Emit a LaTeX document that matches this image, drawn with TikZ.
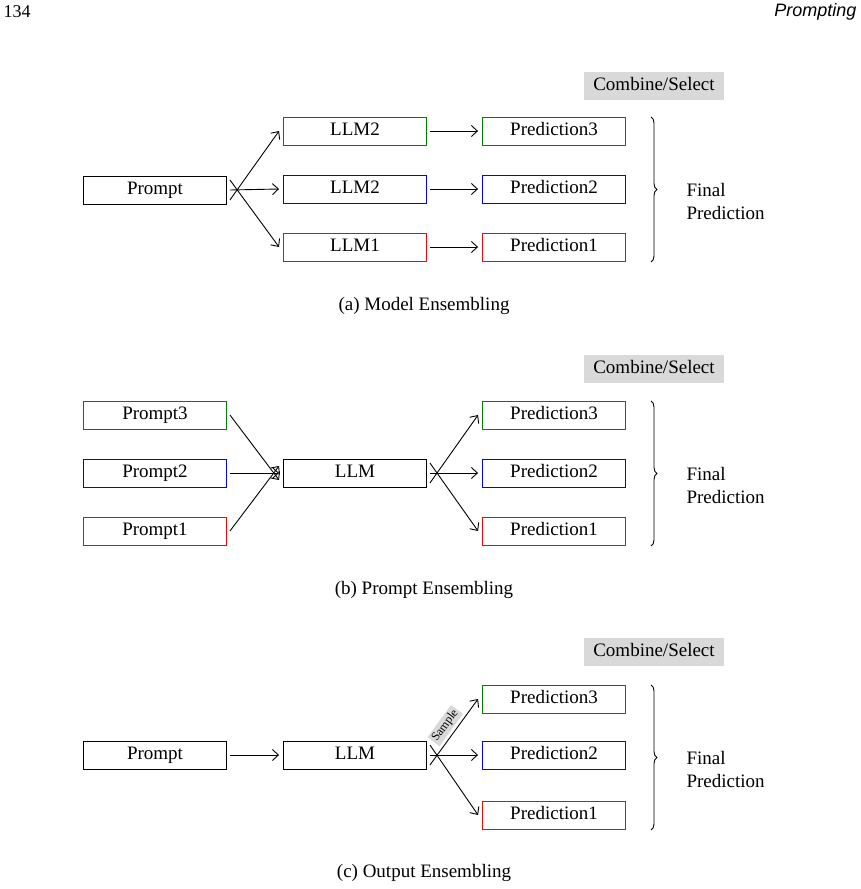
\documentclass[tikz,border=0pt]{standalone}
\usepackage{fontspec}
\setmainfont{Liberation Serif}
\newfontfamily\hdsans{Liberation Sans}
\usetikzlibrary{decorations.pathreplacing,arrows.meta}
\definecolor{cgr}{RGB}{0,128,0}
\definecolor{cbl}{RGB}{0,0,255}
\definecolor{crd}{RGB}{255,0,0}
\begin{document}
\begin{tikzpicture}[x=1pt,y=-1pt,
  bx/.style={draw=#1,line width=0.9pt,minimum width=143,minimum height=28,inner sep=0pt,text height=13pt,text depth=3.5pt,font=\fontsize{19}{22}\selectfont},
  bx/.default=black,
  cs/.style={fill=black!15,minimum width=140,minimum height=28,inner sep=0pt,text height=13pt,text depth=3.5pt,font=\fontsize{19}{22}\selectfont},
  ar/.style={->,line width=0.9pt,>={Straight Barb[length=6pt,width=11pt]}},
  captxt/.style={font=\fontsize{19}{23}\selectfont}]
\useasboundingbox (0,0) rectangle (860,889);
\node[anchor=west,font=\fontsize{18}{20}\selectfont] (pg) at (0,12) {134};
\node[anchor=east,font=\hdsans\itshape\fontsize{18}{20}\selectfont] (ti) at (860,12) {Prompting};
% (a)
\node[cs] (csa) at (654,86) {Combine/Select};
\node[bx] (pa) at (155,190) {Prompt};
\node[bx=cgr] (la3) at (355,131) {LLM2};
\node[bx=cbl] (la2) at (355,189) {LLM2};
\node[bx=crd] (la1) at (355,247) {LLM1};
\node[bx=cgr] (qa3) at (554,131) {Prediction3};
\node[bx=cbl] (qa2) at (554,189) {Prediction2};
\node[bx=crd] (qa1) at (554,247) {Prediction1};
\draw[ar] ([xshift=3,yshift=-10]pa.east) -- ([xshift=-4]la3.west);
\draw[ar] ([xshift=3]pa.east) -- ([xshift=-4]la2.west);
\draw[ar] ([xshift=3,yshift=10]pa.east) -- ([xshift=-4]la1.west);
\foreach \i in {1,2,3} \draw[ar] ([xshift=3]la\i.east) -- ([xshift=-4]qa\i.west);
\draw[line width=0.9pt,decorate,decoration={brace,amplitude=6pt}] (651,117) -- (651,262);
\node[anchor=west,align=left,captxt] (fa) at (683,201) {Final\\Prediction};
\node[captxt] (ca) at (424,306) {(a) Model Ensembling};
% (b)
\node[cs] (csb) at (654,369) {Combine/Select};
\node[bx=cgr] (pb3) at (155,415) {Prompt3};
\node[bx=cbl] (pb2) at (155,473) {Prompt2};
\node[bx=crd] (pb1) at (155,531) {Prompt1};
\node[bx] (lb) at (355,473) {LLM};
\node[bx=cgr] (qb3) at (554,415) {Prediction3};
\node[bx=cbl] (qb2) at (554,473) {Prediction2};
\node[bx=crd] (qb1) at (554,531) {Prediction1};
\draw[ar] ([xshift=3]pb3.east) -- ([xshift=-4,yshift=-7]lb.west);
\draw[ar] ([xshift=3]pb2.east) -- ([xshift=-4]lb.west);
\draw[ar] ([xshift=3]pb1.east) -- ([xshift=-4,yshift=7]lb.west);
\draw[ar] ([xshift=3,yshift=-10]lb.east) -- ([xshift=-4]qb3.west);
\draw[ar] ([xshift=3]lb.east) -- ([xshift=-4]qb2.west);
\draw[ar] ([xshift=3,yshift=10]lb.east) -- ([xshift=-4]qb1.west);
\draw[line width=0.9pt,decorate,decoration={brace,amplitude=6pt}] (651,401) -- (651,546);
\node[anchor=west,align=left,captxt] (fb) at (683,485) {Final\\Prediction};
\node[captxt] (cb) at (424,590) {(b) Prompt Ensembling};
% (c)
\node[cs] (csc) at (654,652) {Combine/Select};
\node[bx] (pc) at (155,755) {Prompt};
\node[bx] (lc) at (355,755) {LLM};
\node[bx=cgr] (qc3) at (554,699) {Prediction3};
\node[bx=cbl] (qc2) at (554,755) {Prediction2};
\node[bx=crd] (qc1) at (554,815) {Prediction1};
\draw[ar] ([xshift=3]pc.east) -- ([xshift=-4]lc.west);
\draw[ar] ([xshift=3,yshift=-10]lc.east) -- node[sloped,above=3pt,fill=black!15,inner sep=2pt,font=\fontsize{12}{14}\selectfont] (sm) {Sample} ([xshift=-4]qc3.west);
\draw[ar] ([xshift=3]lc.east) -- ([xshift=-4]qc2.west);
\draw[ar] ([xshift=3,yshift=10]lc.east) -- ([xshift=-4]qc1.west);
\draw[line width=0.9pt,decorate,decoration={brace,amplitude=6pt}] (651,685) -- (651,830);
\node[anchor=west,align=left,captxt] (fc) at (683,769) {Final\\Prediction};
\node[captxt] (cc) at (424,873) {(c) Output Ensembling};
\end{tikzpicture}
\end{document}
